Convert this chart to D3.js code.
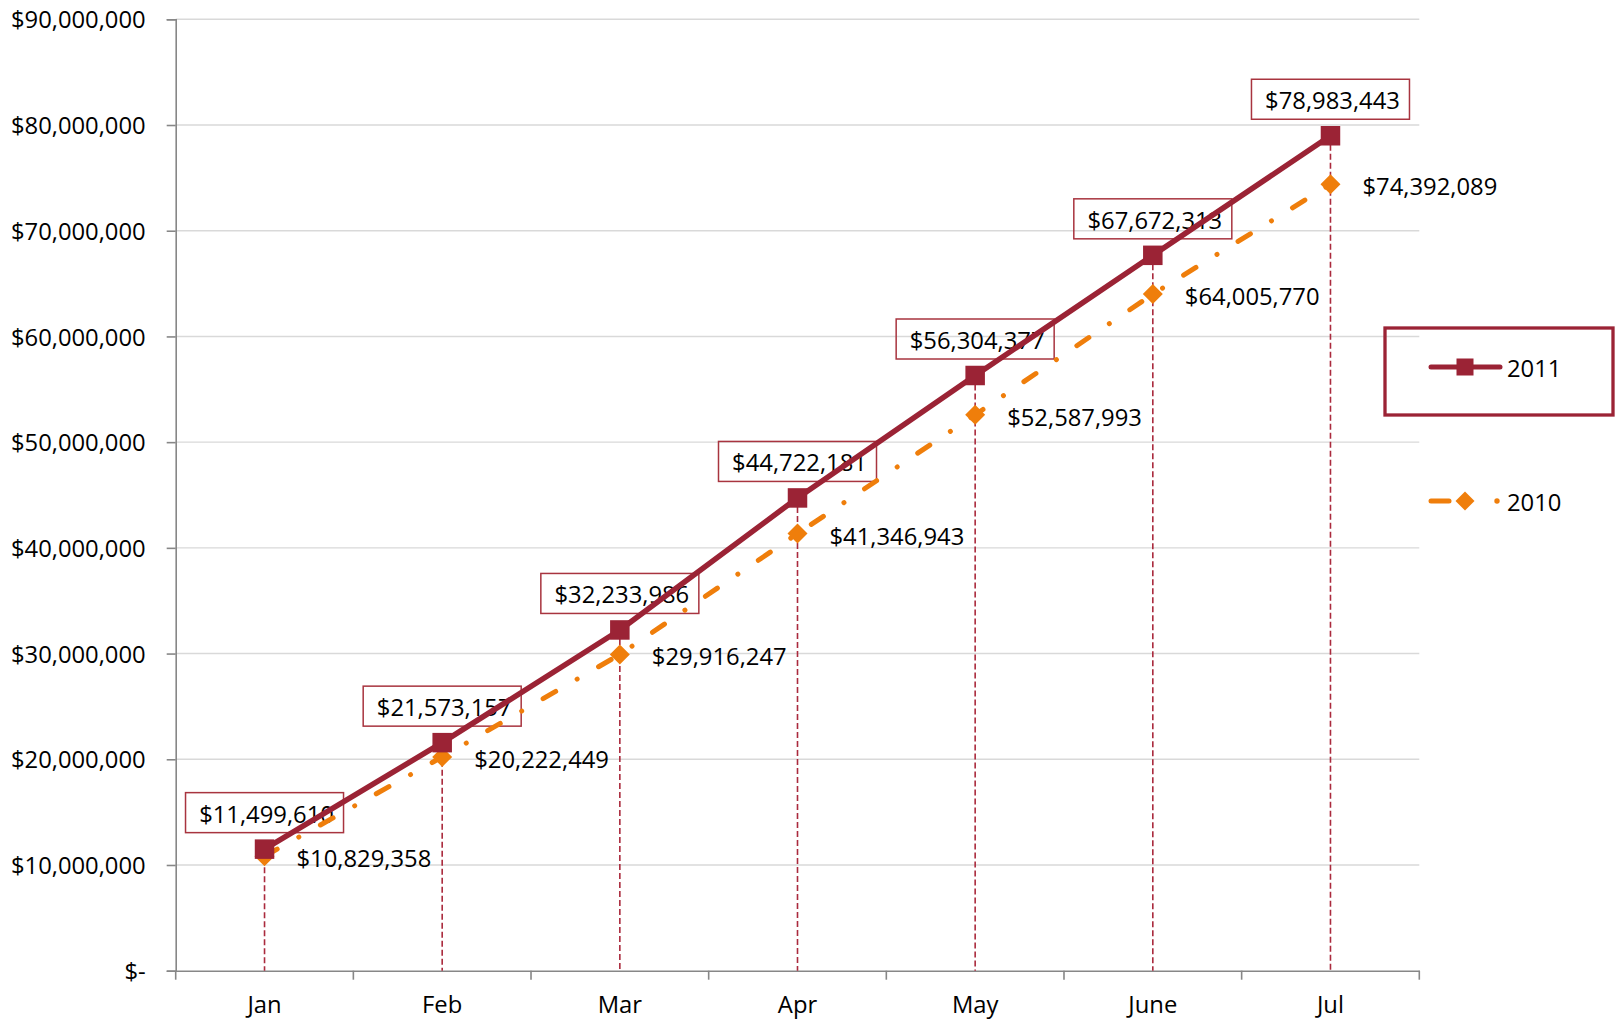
<!DOCTYPE html>
<html>
<head>
<meta charset="utf-8">
<script src="https://cdn.jsdelivr.net/npm/d3@7"></script>
<style>
  body { margin: 0; background: #fff; }
  svg { display: block; font-family: "Open Sans", sans-serif; }
</style>
</head>
<body>
<div id="chart"></div>
<script>
'use strict'

// data
const months = ['Jan', 'Feb', 'Mar', 'Apr', 'May', 'June', 'Jul']
const sales2011 = [11499610, 21573157, 32233986, 44722181, 56304377, 67672313, 78983443]
const sales2010 = [10829358, 20222449, 29916247, 41346943, 52587993, 64005770, 74392089]
const yTicks = [0, 10e6, 20e6, 30e6, 40e6, 50e6, 60e6, 70e6, 80e6, 90e6]
const seriesNames = ['2011', '2010']

////////////////////////////////////
//////////// svg setup /////////////
////////////////////////////////////

const svgWidth = 1619
const svgHeight = 1019

const plot = { left: 175.7, right: 1419.3, top: 19.3, bottom: 970.7 }

const red = '#9B2335'
const orange = '#EF7E0B'
const fontSize = 23.8

const svg = d3.select('#chart')
    .append('svg')
    .attr('width', svgWidth)
    .attr('height', svgHeight)

////////////////////////////////////
//////////////scales////////////////
////////////////////////////////////

const xScale = d3.scaleBand()
    .domain(months)
    .range([plot.left, plot.right])

const yScale = d3.scaleLinear()
    .domain([0, 90e6])
    .range([plot.bottom, plot.top])

const cx = m => xScale(m) + xScale.bandwidth() / 2

const money = v => v === 0 ? '$-' : '$' + d3.format(',')(v)

////////////////////////////////////
//////////////grid & axes///////////
////////////////////////////////////

svg.append('g')
    .selectAll('line')
    .data(yTicks.filter(d => d > 0))
    .join('line')
    .attr('x1', plot.left)
    .attr('x2', plot.right)
    .attr('y1', d => yScale(d))
    .attr('y2', d => yScale(d))
    .attr('stroke', '#D9D9D9')
    .attr('stroke-width', 1.4)

const yAxis = svg.append('g')
    .attr('transform', `translate(${plot.left},0)`)
    .call(d3.axisLeft(yScale).tickValues(yTicks).tickFormat(money).tickSize(9).tickPadding(21))
    .attr('font-family', null)
    .attr('font-size', fontSize)

yAxis.select('.domain').attr('stroke', '#878787').attr('stroke-width', 1.6)
yAxis.selectAll('.tick line').attr('stroke', '#878787').attr('stroke-width', 1.6)
yAxis.selectAll('.tick text')
    .attr('fill', '#000')
    .attr('dy', '0.36em')

const xAxis = svg.append('g')
    .attr('transform', `translate(0,${plot.bottom})`)
    .call(d3.axisBottom(xScale).tickSize(0))
    .attr('font-family', null)
    .attr('font-size', fontSize)

xAxis.select('.domain').attr('stroke', '#878787').attr('stroke-width', 1.6)
xAxis.selectAll('.tick text')
    .attr('fill', '#000')
    .attr('y', 34)
    .attr('dy', '0.36em')

// tick marks between categories
const bounds = months.map(m => xScale(m)).concat([plot.right])
xAxis.append('g')
    .selectAll('line')
    .data(bounds)
    .join('line')
    .attr('x1', d => d)
    .attr('x2', d => d)
    .attr('y1', 0)
    .attr('y2', 9)
    .attr('stroke', '#878787')
    .attr('stroke-width', 1.6)

////////////////////////////////////
//////////////drop lines////////////
////////////////////////////////////

svg.append('g')
    .selectAll('line')
    .data(months)
    .join('line')
    .attr('x1', d => cx(d))
    .attr('x2', d => cx(d))
    .attr('y1', (d, i) => yScale(Math.max(sales2011[i], sales2010[i])))
    .attr('y2', plot.bottom)
    .attr('stroke', '#AA2A3D')
    .attr('stroke-width', 1.6)
    .attr('stroke-dasharray', '6,3')

////////////////////////////////////
//////////////data labels///////////
////////////////////////////////////

const boxW = 158, boxH = 40, boxGap = 16.5

const lab11 = svg.append('g')
    .selectAll('g')
    .data(months)
    .join('g')
    .attr('transform', (d, i) => `translate(${cx(d)},${yScale(sales2011[i]) - boxGap - boxH / 2})`)

lab11.append('rect')
    .attr('x', -boxW / 2)
    .attr('y', -boxH / 2)
    .attr('width', boxW)
    .attr('height', boxH)
    .attr('fill', 'none')
    .attr('stroke', '#A8343F')
    .attr('stroke-width', 1.5)

lab11.append('text')
    .attr('x', 2)
    .attr('y', 1)
    .attr('text-anchor', 'middle')
    .attr('dominant-baseline', 'central')
    .attr('font-size', fontSize)
    .text((d, i) => money(sales2011[i]))

svg.append('g')
    .selectAll('text')
    .data(months)
    .join('text')
    .attr('x', d => cx(d) + 32)
    .attr('y', (d, i) => yScale(sales2010[i]) + 2)
    .attr('dominant-baseline', 'central')
    .attr('font-size', fontSize)
    .text((d, i) => money(sales2010[i]))

////////////////////////////////////
//////////////series////////////////
////////////////////////////////////

const line = d3.line()
    .x(d => cx(d.m))
    .y(d => yScale(d.v))

const pts2011 = months.map((m, i) => ({ m, v: sales2011[i] }))
const pts2010 = months.map((m, i) => ({ m, v: sales2010[i] }))

const dashDot = '14.5,24.75,0.01,24.75'
const diamond = r => `M0,${-r}L${r},0L0,${r}L${-r},0Z`

svg.append('path')
    .datum(pts2010)
    .attr('d', line)
    .attr('fill', 'none')
    .attr('stroke', orange)
    .attr('stroke-width', 5)
    .attr('stroke-linecap', 'round')
    .attr('stroke-dasharray', dashDot)

svg.append('g')
    .selectAll('path')
    .data(pts2010)
    .join('path')
    .attr('transform', d => `translate(${cx(d.m)},${yScale(d.v)})`)
    .attr('d', diamond(10))
    .attr('fill', orange)

svg.append('path')
    .datum(pts2011)
    .attr('d', line)
    .attr('fill', 'none')
    .attr('stroke', red)
    .attr('stroke-width', 5.5)
    .attr('stroke-linejoin', 'round')

svg.append('g')
    .selectAll('rect')
    .data(pts2011)
    .join('rect')
    .attr('x', d => cx(d.m) - 9.75)
    .attr('y', d => yScale(d.v) - 9.75)
    .attr('width', 19.5)
    .attr('height', 19.5)
    .attr('fill', red)

////////////////////////////////////
//////////////legend////////////////
////////////////////////////////////

const legend = svg.append('g')

legend.append('rect')
    .attr('x', 1385)
    .attr('y', 328)
    .attr('width', 228)
    .attr('height', 87)
    .attr('fill', 'none')
    .attr('stroke', red)
    .attr('stroke-width', 3.3)

const legendRows = [
    { name: seriesNames[0], y: 367, color: red },
    { name: seriesNames[1], y: 501, color: orange }
]

legendRows.forEach((r, i) => {
    const g = legend.append('g').attr('transform', `translate(0,${r.y})`)
    if (i === 0) {
        g.append('line')
            .attr('x1', 1431).attr('x2', 1500)
            .attr('stroke', r.color).attr('stroke-width', 5)
            .attr('stroke-linecap', 'round')
        g.append('rect')
            .attr('x', 1456.5).attr('y', -8.5)
            .attr('width', 17).attr('height', 17)
            .attr('fill', r.color)
    } else {
        g.append('line')
            .attr('x1', 1431).attr('x2', 1449)
            .attr('stroke', r.color).attr('stroke-width', 5)
            .attr('stroke-linecap', 'round')
        g.append('circle')
            .attr('cx', 1497).attr('r', 2.7)
            .attr('fill', r.color)
        g.append('path')
            .attr('transform', 'translate(1465,0)')
            .attr('d', diamond(9.5))
            .attr('fill', r.color)
    }
    g.append('text')
        .attr('x', 1507)
        .attr('y', 1)
        .attr('dominant-baseline', 'central')
        .attr('font-size', fontSize)
        .text(r.name)
})
</script>
</body>
</html>
